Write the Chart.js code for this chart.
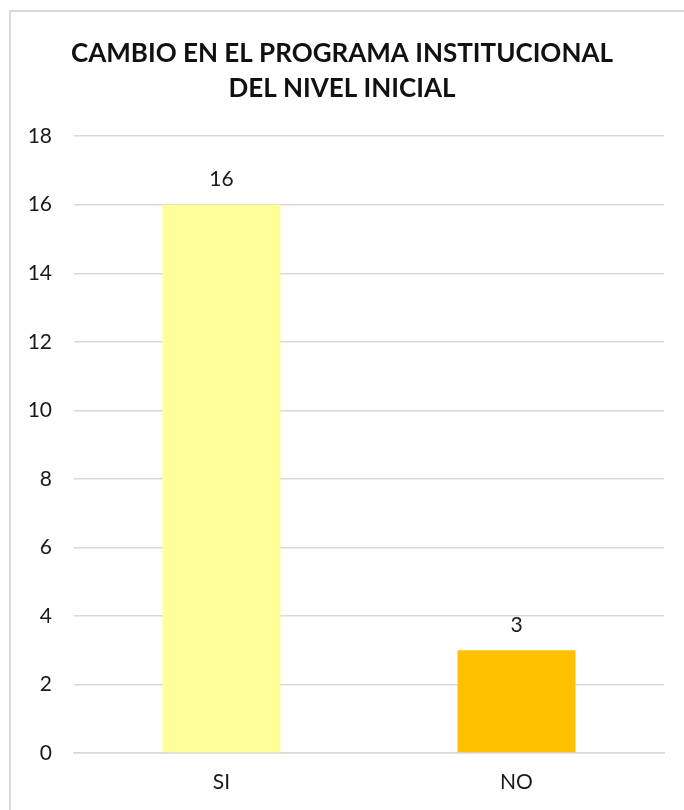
<!DOCTYPE html>
<html>
<head>
<meta charset="utf-8">
<script src="https://cdn.jsdelivr.net/npm/chart.js@4.4.1/dist/chart.umd.min.js"></script>
<style>
  html, body { margin: 0; padding: 0; background: #fff; }
  #wrap { position: relative; width: 684px; height: 810px; overflow: hidden; }
  #frame { position: absolute; left: 9px; top: 10px; width: 700px; height: 820px;
           border-left: 2px solid #d9d9d9; border-top: 2px solid #d9d9d9; box-sizing: border-box; }
  canvas { position: absolute; left: 0; top: 0; }
</style>
</head>
<body>
<div id="wrap">
  <div id="frame"></div>
  <canvas id="c" width="684" height="810"></canvas>
</div>
<script>
const categories = ["SI", "NO"];
const values = [16, 3];
const barColors = ["#FFFF99", "#FFC000"];
const titleLines = ["CAMBIO EN EL PROGRAMA INSTITUCIONAL", "DEL NIVEL INICIAL"];

const FONT = "Lato, 'Noto Sans', sans-serif";

const valueLabels = {
  id: 'valueLabels',
  afterDatasetsDraw(chart) {
    const ctx = chart.ctx;
    const meta = chart.getDatasetMeta(0);
    ctx.save();
    ctx.font = "21px " + FONT;
    ctx.fillStyle = "#1a1a1a";
    ctx.textAlign = "center";
    ctx.textBaseline = "middle";
    meta.data.forEach((bar, i) => {
      ctx.fillText(String(values[i]), bar.x, bar.y - 25);
    });
    ctx.restore();
  }
};

new Chart(document.getElementById('c'), {
  type: 'bar',
  data: {
    labels: categories,
    datasets: [{
      data: values,
      backgroundColor: barColors,
      borderWidth: 0,
      barPercentage: 0.4,
      categoryPercentage: 1.0
    }]
  },
  options: {
    responsive: false,
    animation: false,
    devicePixelRatio: 1,
    layout: { padding: { left: 20, right: 20, top: 0, bottom: 0 } },
    plugins: {
      legend: { display: false },
      tooltip: { enabled: false },
      title: {
        display: true,
        text: titleLines,
        color: "#111",
        font: { family: FONT, size: 26, weight: 'bold', lineHeight: 1.35 },
        padding: { top: 36, bottom: 30 }
      }
    },
    scales: {
      x: {
        grid: { display: false, drawTicks: false },
        border: { display: true, color: "#d9d9d9", width: 1.5 },
        ticks: { color: "#1a1a1a", font: { family: FONT, size: 21 }, padding: 17 },
        afterFit(scale) { scale.height = 57; }
      },
      y: {
        min: 0, max: 18,
        ticks: { stepSize: 2, color: "#1a1a1a", font: { family: FONT, size: 21 }, padding: 22 },
        grid: { color: "#d9d9d9", lineWidth: 1.5, drawTicks: false },
        border: { display: false },
        afterFit(scale) { scale.width = 54; }
      }
    }
  },
  plugins: [valueLabels]
});
</script>
</body>
</html>
